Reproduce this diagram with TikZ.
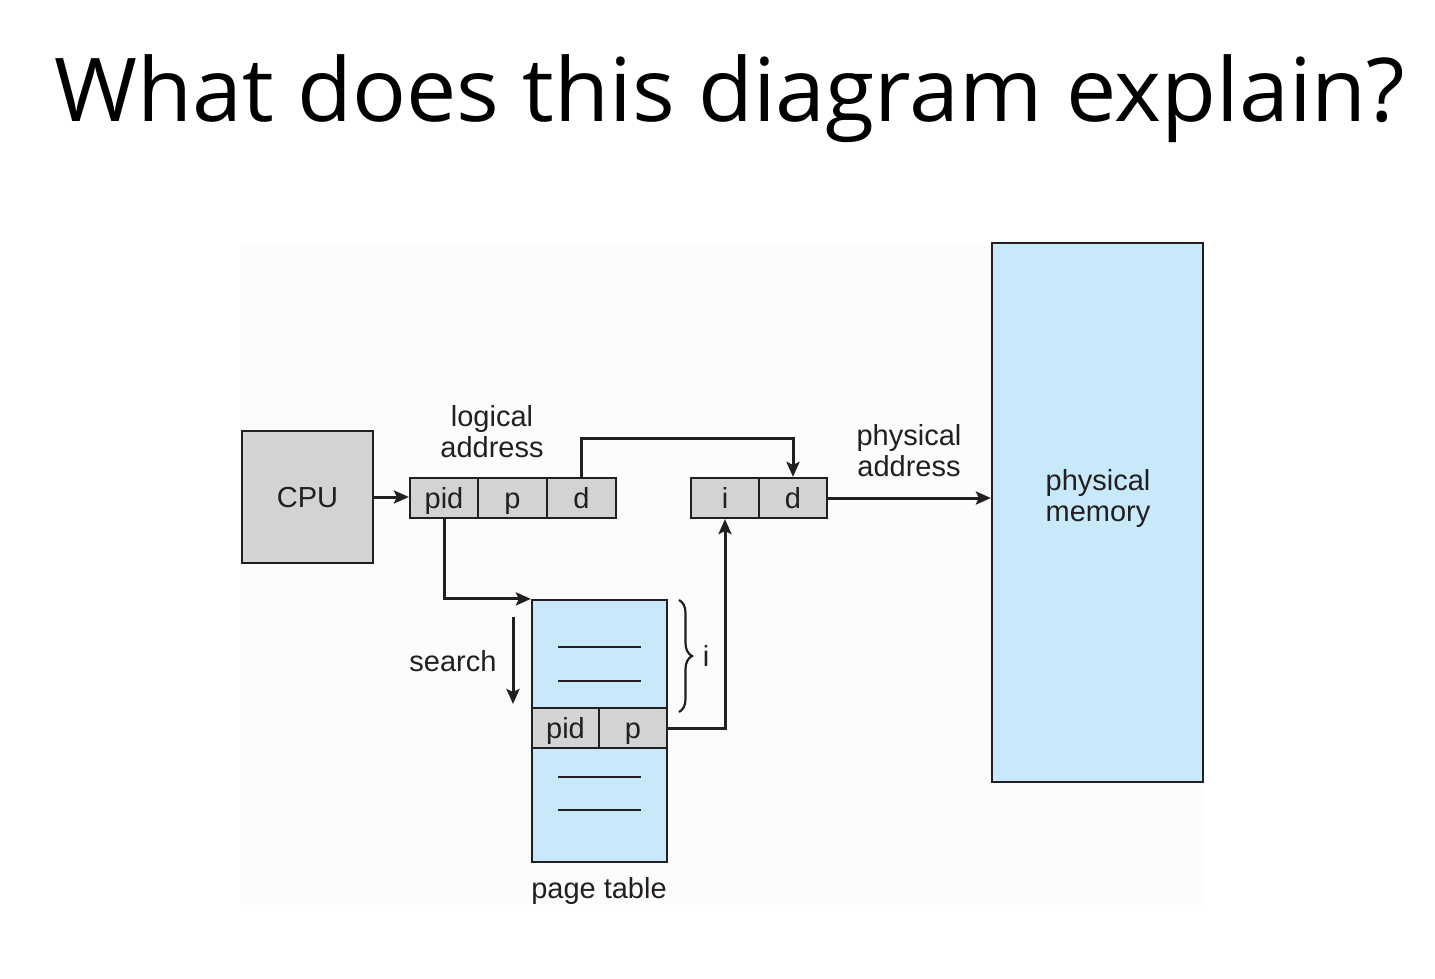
\documentclass[tikz,border=0pt]{standalone}
\usepackage{fontspec}
\setmainfont{Liberation Sans}
\newfontfamily\titlefont{Open Sans}
\usetikzlibrary{arrows.meta,decorations.pathreplacing}
\definecolor{boxgray}{RGB}{209,211,212}
\definecolor{memblue}{RGB}{199,233,249}
\definecolor{linec}{RGB}{35,31,32}
\definecolor{panel}{RGB}{252,252,252}
\newcommand{\dfont}{\fontsize{29pt}{31pt}\selectfont}
\begin{document}
\begin{tikzpicture}[x=1pt,y=-1pt,
  field/.style={draw=linec, line width=2.2pt, fill=boxgray, minimum height=40pt, inner sep=0pt,
    text=linec, font=\dfont, text height=20pt, text depth=0pt},
  bluebox/.style={draw=linec, line width=2.2pt, fill=memblue, inner sep=0pt},
  lbl/.style={inner sep=0pt, align=center, text=linec, font=\dfont},
  conn/.style={draw=linec, line width=3pt},
  arr/.style={conn, -{Stealth[length=15pt,width=13pt,inset=3pt]}},
  rowline/.style={draw=linec, line width=2.2pt}]
\useasboundingbox (0,0) rectangle (1435,979);
\fill[white] (0,0) rectangle (1435,979);
\fill[panel] (240,245) rectangle (1203,905);

% title
\node[inner sep=0pt] (title) at (730,99) {\resizebox*{1350pt}{88pt}{\titlefont What does this diagram explain?}};

% CPU and logical address
\node[field, minimum width=131pt, minimum height=132pt] (cpu) at (307.5,497) {CPU};
\node[field, minimum width=68pt] (lpid) at (444,498) {pid};
\node[field, minimum width=69pt] (lp) at (512.5,498) {p};
\node[field, minimum width=69pt] (ld) at (581.5,498) {d};
\node[lbl] (logaddr) at (492,432) {logical\\address};

% physical address
\node[field, minimum width=68pt] (pi) at (725,498) {i};
\node[field, minimum width=68pt] (pd) at (793,498) {d};
\node[lbl] (physaddr) at (909,450.5) {physical\\address};

% physical memory
\node[bluebox, minimum width=211pt, minimum height=539pt] (mem) at (1097.5,512.5) {};
\node[lbl] (memtxt) at (1098,498.5) {physical\\memory};

% page table
\node[bluebox, minimum width=135pt, minimum height=108pt] (pttop) at (599.5,654) {};
\node[bluebox, minimum width=135pt, minimum height=114pt] (ptbot) at (599.5,805) {};
\node[field, minimum width=67pt] (tpid) at (565.5,728) {pid};
\node[field, minimum width=68pt] (tp) at (633,728) {p};
\draw[rowline] (558,647) -- (641,647);
\draw[rowline] (558,681) -- (641,681);
\draw[rowline] (558,777) -- (641,777);
\draw[rowline] (558,810) -- (641,810);
\node[lbl] (ptlabel) at (599,891) {page table};

% search
\node[lbl] (search) at (453,661) {search};
\coordinate (s1) at (513,617);
\coordinate (s2) at (513,704);
\draw[arr] (s1) -- (s2);

% brace
\coordinate (b1) at (679,600);
\coordinate (b2) at (679,712);
\draw[draw=linec, line width=2.2pt, decorate, decoration={brace, amplitude=13pt}] (b1) -- (b2);
\node[lbl] (ilabel) at (706,656) {i};

% connectors
\draw[arr] (cpu.east) -- (cpu.east -| lpid.west);
\draw[arr] (ld.north) -- ++(0,-38) -| (pd.north);
\draw[arr] (pd.east) -- (pd.east -| mem.west);
\draw[arr] (lpid.south) |- (pttop.north west);
\draw[arr] (tp.east) -| (pi.south);
\end{tikzpicture}
\end{document}
